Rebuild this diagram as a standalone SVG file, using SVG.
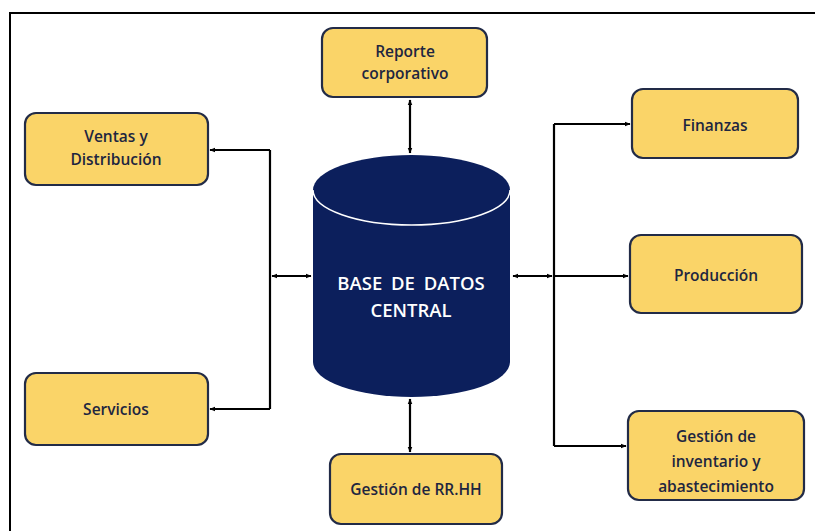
<svg xmlns="http://www.w3.org/2000/svg" width="815" height="531" viewBox="0 0 815 531">
<defs>
<marker id="ah" viewBox="0 0 10 10" refX="9" refY="5" markerWidth="6" markerHeight="6" orient="auto-start-reverse" markerUnits="userSpaceOnUse">
<path d="M0,1 L10,5 L0,9 Z" fill="#000"/>
</marker>
<style>
.box{fill:#FAD468;stroke:#222B47;stroke-width:2.2}
.lbl{font-family:"Open Sans","Noto Sans",sans-serif;font-size:15.5px;font-weight:600;fill:#1E2640;text-anchor:middle}
.con{fill:none;stroke:#000;stroke-width:2.2}
.db{font-family:"Open Sans","Noto Sans",sans-serif;font-size:18.5px;font-weight:600;fill:#FFFFFF;text-anchor:middle;word-spacing:4px}
</style>
</defs>
<rect x="0" y="0" width="815" height="531" fill="#fff"/>
<path d="M10,531 L10,13 L815,13" fill="none" stroke="#000" stroke-width="2"/>

<g id="connectors">
<line class="con" x1="410" y1="100" x2="410" y2="153" marker-start="url(#ah)" marker-end="url(#ah)"/>
<line class="con" x1="410" y1="399" x2="410" y2="452" marker-start="url(#ah)" marker-end="url(#ah)"/>
<path class="con" d="M270,150 L270,409"/>
<line class="con" x1="270" y1="150" x2="210" y2="150" marker-end="url(#ah)"/>
<line class="con" x1="270" y1="409" x2="210" y2="409" marker-end="url(#ah)"/>
<line class="con" x1="272" y1="276" x2="311" y2="276" marker-start="url(#ah)" marker-end="url(#ah)"/>
<line class="con" x1="513" y1="276" x2="552" y2="276" marker-start="url(#ah)" marker-end="url(#ah)"/>
<path class="con" d="M554,124 L554,446"/>
<line class="con" x1="554" y1="124" x2="630" y2="124" marker-end="url(#ah)"/>
<line class="con" x1="554" y1="276" x2="628" y2="276" marker-end="url(#ah)"/>
<line class="con" x1="554" y1="446" x2="626" y2="446" marker-end="url(#ah)"/>
</g>

<g id="db">
<path d="M313,190 L313,362 A98.5,35 0 0 0 510,362 L510,190 A98.5,35 0 0 0 313,190 Z" fill="#0C1F5C"/>
<path d="M313,190 A98.5,35 0 0 0 510,190" fill="none" stroke="#fff" stroke-width="1.5"/>
<text class="db" x="411" y="290">BASE DE DATOS</text>
<text class="db" x="411" y="317">CENTRAL</text>
</g>

<g id="reporte">
<rect class="box" x="322" y="28" width="165" height="69" rx="11"/>
<text class="lbl" x="405" y="57">Reporte</text>
<text class="lbl" x="405" y="79">corporativo</text>
</g>
<g id="ventas">
<rect class="box" x="25" y="113" width="183" height="72" rx="11"/>
<text class="lbl" x="116" y="142">Ventas y</text>
<text class="lbl" x="116" y="165">Distribución</text>
</g>
<g id="servicios">
<rect class="box" x="25" y="373" width="183" height="72" rx="11"/>
<text class="lbl" x="116" y="415">Servicios</text>
</g>
<g id="finanzas">
<rect class="box" x="632" y="89" width="166" height="69" rx="11"/>
<text class="lbl" x="715" y="131">Finanzas</text>
</g>
<g id="produccion">
<rect class="box" x="630" y="235" width="172" height="78" rx="11"/>
<text class="lbl" x="716" y="281">Producción</text>
</g>
<g id="inventario">
<rect class="box" x="628" y="411" width="176" height="89" rx="11"/>
<text class="lbl" x="716" y="442">Gestión de</text>
<text class="lbl" x="716" y="467">inventario y</text>
<text class="lbl" x="716" y="492">abastecimiento</text>
</g>
<g id="rrhh">
<rect class="box" x="330" y="454" width="172" height="70" rx="11"/>
<text class="lbl" x="416" y="495">Gestión de RR.HH</text>
</g>
</svg>
